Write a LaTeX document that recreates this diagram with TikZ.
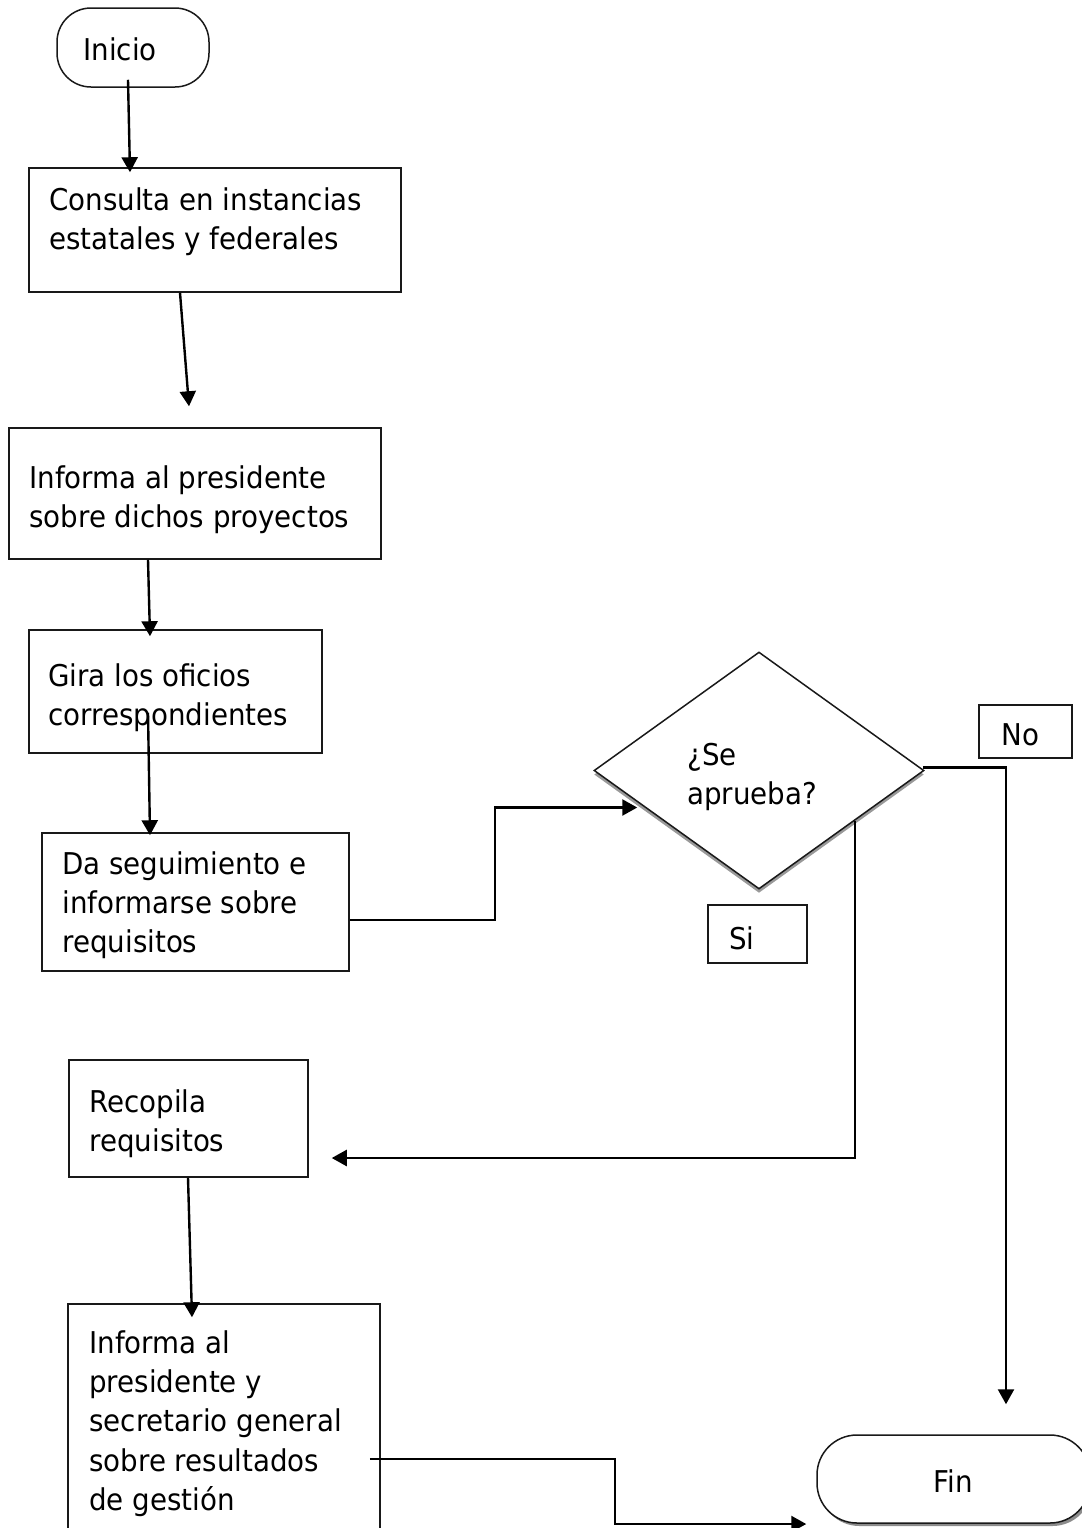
\documentclass[tikz,border=0pt]{standalone}
\usepackage{fontspec}
\setmainfont{DejaVu Sans}[FakeStretch=0.923]
\usetikzlibrary{arrows.meta,shapes.geometric,calc,shadows}
\begin{document}
\begin{tikzpicture}[x=0.5pt,y=-0.5pt,
  font=\fontsize{15}{19.6}\selectfont,
  box/.style={draw=black!90, line width=0.75pt, fill=white, rectangle, inner sep=0pt},
  txt/.style={anchor=north west, inner sep=0pt, align=left},
  arr/.style={line width=1.2pt, -{Triangle[length=7.5pt,width=8pt]}},
  shad/.style={drop shadow={shadow xshift=1.2pt, shadow yshift=-1.5pt, fill=black!45, opacity=1}},
  dshad/.style={drop shadow={shadow xshift=0pt, shadow yshift=-2pt, fill=black!40, opacity=1}}
]
\useasboundingbox (0,0) rectangle (1082,1528);
\clip (0,0) rectangle (1082,1528);

% boxes
\node[box, rounded corners=17pt, minimum width=76pt, minimum height=39.5pt] (inicio) at (133,47.5) {};
\node[box, minimum width=186pt, minimum height=62pt] (b1) at (215,230) {};
\node[box, minimum width=186pt, minimum height=65.5pt] (b2) at (195,493.5) {};
\node[box, minimum width=146.5pt, minimum height=61.5pt] (b3) at (175.5,691.5) {};
\node[box, minimum width=153.5pt, minimum height=69pt] (b4) at (195.5,902) {};
\node[box, diamond, dshad, minimum width=165pt, minimum height=118.5pt] (dec) at (759,770.5) {};
\node[box, minimum width=46.5pt, minimum height=26.5pt] (no) at (1025.5,731.5) {};
\node[box, minimum width=49.5pt, minimum height=29pt] (si) at (757.5,934) {};
\node[box, minimum width=119.5pt, minimum height=58.5pt] (b5) at (188.5,1118.5) {};
\node[box, minimum width=156pt, minimum height=128pt] (b6) at (224,1432) {};
\node[box, shad, rounded corners=20pt, minimum width=136.5pt, minimum height=44pt] (fin) at (953.5,1479) {};

% texts
\node[txt] (tinicio) at (83,32.6) {\strut Inicio};
\node[txt] (t1) at (49,182.6) {\strut Consulta en instancias\\estatales y federales};
\node[txt] (t2) at (29,460.6) {\strut Informa al presidente\\sobre dichos proyectos};
\node[txt] (t3) at (48,658.6) {\strut Gira los oficios\\correspondientes};
\node[txt] (t4) at (62,846.6) {\strut Da seguimiento e\\informarse sobre\\requisitos};
\node[txt] (tdec) at (687,737.6) {\strut ¿Se\\aprueba?};
\node[txt] (tno) at (1001,717.6) {\strut No};
\node[txt] (tsi) at (729,921.6) {\strut Si};
\node[txt] (t5) at (89,1084.6) {\strut Recopila\\requisitos};
\node[txt] (t6) at (89,1325.6) {\strut Informa al\\presidente y\\secretario general\\sobre resultados\\de gestión};
\node[anchor=base, inner sep=0pt] (tfin) at (953,1492) {Fin};

% connectors
\draw[arr] ($(inicio.south)+(-5,-8)$) -- ($(b1.north)+(-85,5)$);
\draw[arr] ($(b1.south)+(-35,0)$) -- ($(b2.north)+(-6,-21)$);
\draw[arr] ($(b2.south)+(-47,0)$) -- ($(b3.north)+(-25.5,7)$);
\draw[arr] ($(b3.south)+(-27.5,-41)$) -- ($(b4.north)+(-45.5,3)$);
\draw[arr] ($(b4.east)+(0,18)$) -- ++(145,0) |- ($(dec.west)+(44,37)$);
\draw[arr] ($(dec.east)+(-2,-3)$) -| ($(fin.north)+(52.5,-30)$);
\draw[arr] ($(dec.east)+(-70,50)$) |- ($(b5.east)+(23,39.5)$);
\draw[arr] ($(b5.south)+(-0.5,0)$) -- ($(b6.north)+(-32,14)$);
\draw[arr] ($(b6.east)+(-11,27)$) -- ++(245,0) |- ($(fin.west)+(-10,45)$);
\end{tikzpicture}
\end{document}
